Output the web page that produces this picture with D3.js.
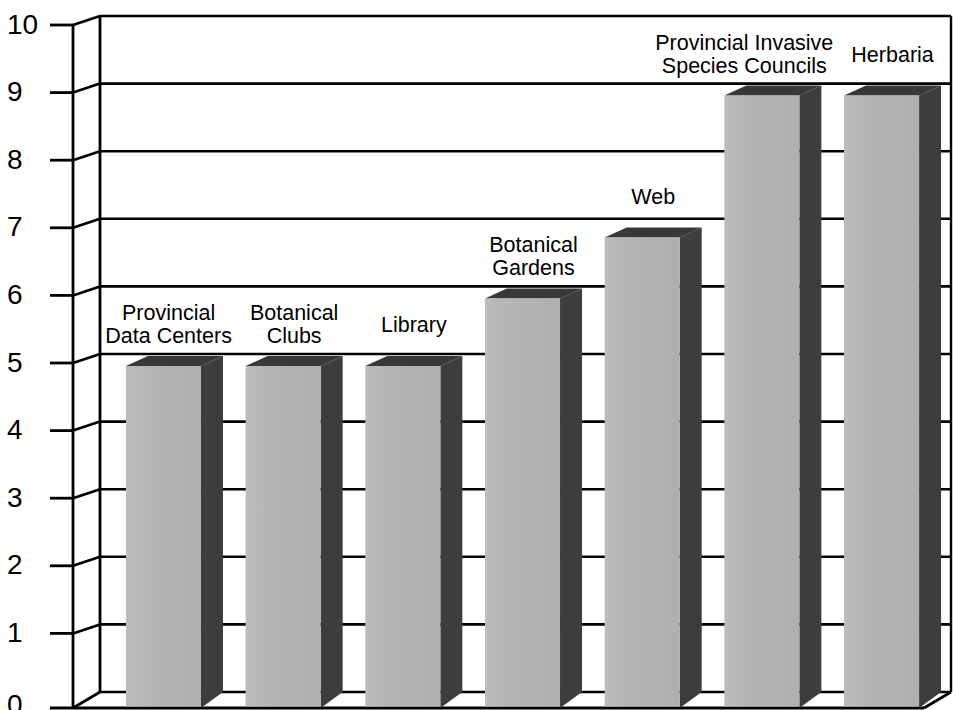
<!DOCTYPE html>
<html>
<head>
<meta charset="utf-8">
<script src="https://cdn.jsdelivr.net/npm/d3@7"></script>
<style>
  html, body { margin: 0; padding: 0; background: #fff; }
  svg { display: block; }
  text { font-family: "Liberation Sans", Arial, sans-serif; fill: #000; }
</style>
</head>
<body>
<svg id="chart" width="953" height="710"></svg>
<script>
"use strict";

// data
const categories = [
  "Provincial Data Centers",
  "Botanical Clubs",
  "Library",
  "Botanical Gardens",
  "Web",
  "Provincial Invasive Species Councils",
  "Herbaria"
];
const values = [5, 5, 5, 6, 6.9, 9, 9];
const labelLines = [
  ["Provincial", "Data Centers"],
  ["Botanical", "Clubs"],
  ["Library"],
  ["Botanical", "Gardens"],
  ["Web"],
  ["Provincial Invasive", "Species Councils"],
  ["Herbaria"]
];
const yTicks = [0, 1, 2, 3, 4, 5, 6, 7, 8, 9, 10];

// fake 3d geometry
const DEPTH_X = 27;      // wall depth
const GRID_DY = 9;       // front/back offset of gridlines
const FLOOR_DY = 16;     // floor is drawn a bit deeper
const BAR_DX = 22;
const LEFT_FRONT = 73;
const LEFT_BACK = LEFT_FRONT + DEPTH_X;
const RIGHT_BACK = 951;
const RIGHT_FRONT = RIGHT_BACK - DEPTH_X;
const TICK_LEN = 23;

const svg = d3.select("#chart");

// y scale on the back wall
const y = d3.scaleLinear().domain([0, 10]).range([692, 16]);
const floorFront = y(0) + FLOOR_DY;

// x scale on the front plane
const x = d3.scaleBand()
  .domain(categories)
  .range([102, 943])
  .paddingInner(0.373)
  .paddingOuter(0.2);

const lineStyle = (sel, w) => sel.attr("stroke", "#000").attr("stroke-width", w).attr("fill", "none");

const grid = svg.append("g").attr("id", "grid");

// back wall gridlines
grid.selectAll(".hgrid")
  .data(yTicks)
  .enter()
  .append("line")
  .attr("class", "hgrid")
  .attr("x1", LEFT_BACK)
  .attr("x2", RIGHT_BACK)
  .attr("y1", (d) => y(d))
  .attr("y2", (d) => y(d))
  .call(lineStyle, 2.6);

// left wall slants
grid.selectAll(".slant")
  .data(yTicks.filter((d) => d > 0))
  .enter()
  .append("line")
  .attr("class", "slant")
  .attr("x1", LEFT_FRONT)
  .attr("x2", LEFT_BACK)
  .attr("y1", (d) => y(d) + GRID_DY)
  .attr("y2", (d) => y(d))
  .call(lineStyle, 2.6);

// ticks
grid.selectAll(".tick")
  .data(yTicks.filter((d) => d > 0))
  .enter()
  .append("line")
  .attr("class", "tick")
  .attr("x1", LEFT_FRONT - TICK_LEN)
  .attr("x2", LEFT_FRONT)
  .attr("y1", (d) => y(d) + GRID_DY)
  .attr("y2", (d) => y(d) + GRID_DY)
  .call(lineStyle, 2.8);

// verticals
grid.append("line")
  .attr("x1", LEFT_FRONT).attr("x2", LEFT_FRONT)
  .attr("y1", y(10) + GRID_DY).attr("y2", floorFront)
  .call(lineStyle, 2.8);
grid.append("line")
  .attr("x1", LEFT_BACK).attr("x2", LEFT_BACK)
  .attr("y1", y(10)).attr("y2", y(0))
  .call(lineStyle, 2.8);
grid.append("line")
  .attr("x1", RIGHT_BACK).attr("x2", RIGHT_BACK)
  .attr("y1", y(10)).attr("y2", y(0))
  .call(lineStyle, 2.4);

// floor
grid.append("path")
  .attr("d", `M${LEFT_BACK},${y(0)}L${LEFT_FRONT},${floorFront}` +
    `M${RIGHT_BACK},${y(0)}L${RIGHT_FRONT},${floorFront}`)
  .call(lineStyle, 2.8);
grid.append("line")
  .attr("x1", LEFT_FRONT - TICK_LEN).attr("x2", RIGHT_FRONT)
  .attr("y1", floorFront).attr("y2", floorFront)
  .call(lineStyle, 3.2);

// y labels
svg.append("g")
  .selectAll("text")
  .data(yTicks)
  .enter()
  .append("text")
  .attr("x", 7)
  .attr("y", (d) => (d === 0 ? floorFront - 3 : y(d) + GRID_DY) - 1)
  .attr("dominant-baseline", "central")
  .style("font-size", "28px")
  .text((d) => d);

// bars
const topFront = (v) => y(v) + 12;
const topBack = (v) => y(v) + 2;

const defs = svg.append("defs");
const grad = defs.append("linearGradient").attr("id", "frontGrad");
grad.append("stop").attr("offset", "0%").attr("stop-color", "#bcbcbc");
grad.append("stop").attr("offset", "40%").attr("stop-color", "#b3b3b3");
grad.append("stop").attr("offset", "100%").attr("stop-color", "#afafaf");

const bars = svg.append("g")
  .selectAll(".bar")
  .data(categories.map((c, i) => ({ name: c, value: values[i], lines: labelLines[i] })))
  .enter()
  .append("g")
  .attr("class", "bar");

bars.append("path")
  .attr("fill", "#3d3d3d")
  .attr("d", (d) => {
    const xr = x(d.name) + x.bandwidth();
    return `M${xr},${floorFront}L${xr},${topFront(d.value)}` +
      `L${xr + BAR_DX},${topBack(d.value)}L${xr + BAR_DX},${y(0)}Z`;
  });

bars.append("path")
  .attr("fill", "#383838")
  .attr("d", (d) => {
    const xl = x(d.name);
    const xr = xl + x.bandwidth();
    return `M${xl},${topFront(d.value)}L${xl + BAR_DX},${topBack(d.value)}` +
      `L${xr + BAR_DX},${topBack(d.value)}L${xr},${topFront(d.value)}Z`;
  });

bars.append("rect")
  .attr("fill", "url(#frontGrad)")
  .attr("x", (d) => x(d.name))
  .attr("y", (d) => topFront(d.value))
  .attr("width", x.bandwidth())
  .attr("height", (d) => floorFront - 1.5 - topFront(d.value));

// labels over bars
const labels = bars.append("text")
  .attr("text-anchor", "middle")
  .style("font-size", "21.5px")
  .attr("transform", (d) => {
    const cx = x(d.name) + x.bandwidth() / 2 + BAR_DX / 2;
    const base = d.lines.length === 1 ? topFront(d.value) - 34 : topFront(d.value) - 46;
    return `translate(${cx},${base})`;
  });

labels.selectAll("tspan")
  .data((d) => d.lines)
  .enter()
  .append("tspan")
  .attr("x", 0)
  .attr("dy", (d, i) => (i === 0 ? 0 : 23))
  .text((d) => d);

// push a label left when it runs into its right neighbour
const nodes = labels.nodes();
for (let i = nodes.length - 2; i >= 0; i--) {
  const a = nodes[i].getBBox();
  const b = nodes[i + 1].getBBox();
  const ta = nodes[i].transform.baseVal.consolidate().matrix;
  const tb = nodes[i + 1].transform.baseVal.consolidate().matrix;
  const vOverlap = (ta.f + a.y < tb.f + b.y + b.height) && (tb.f + b.y < ta.f + a.y + a.height);
  const overlap = (ta.e + a.x + a.width) - (tb.e + b.x - 18);
  if (vOverlap && overlap > 0) {
    d3.select(nodes[i]).attr("transform", `translate(${ta.e - overlap},${ta.f})`);
  }
}
</script>
</body>
</html>
